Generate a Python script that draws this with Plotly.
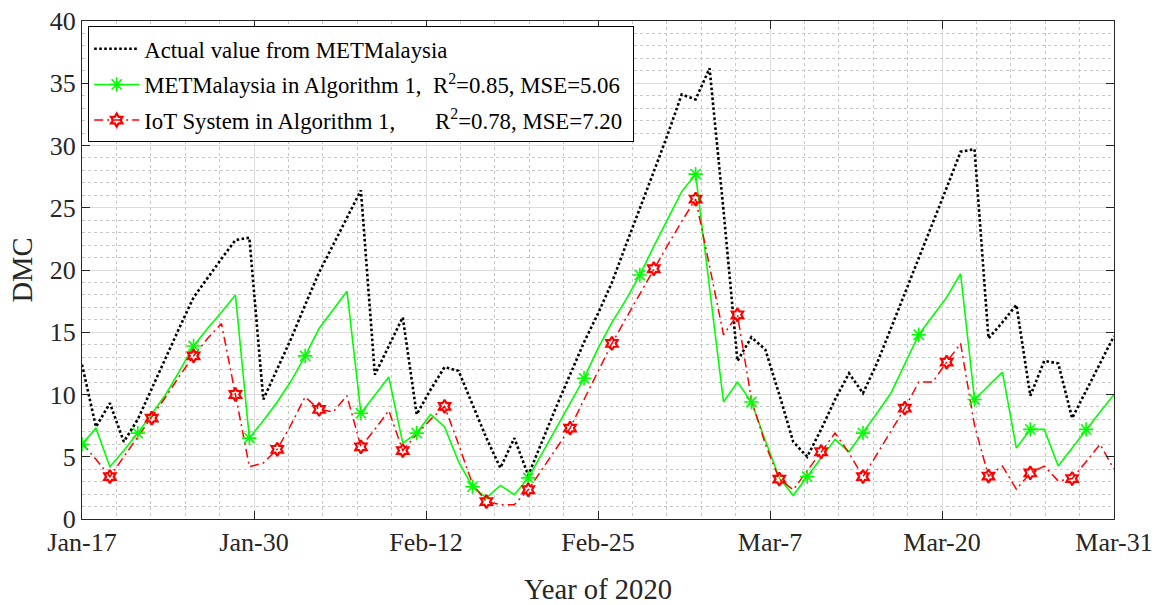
import numpy as np
import plotly.graph_objects as go

# ---------------- data ----------------
tick_labels = ["Jan-17", "Jan-30", "Feb-12", "Feb-25", "Mar-7", "Mar-20", "Mar-31"]

actual = [12.4, 7.4, 9.3, 6.2, 8.0, 10.5, 12.9, 15.4, 17.8, 19.4,
          20.9, 22.4, 22.6, 9.6, 12.0, 14.5, 17.2, 19.8, 22.0, 24.2,
          26.4, 11.6, 13.9, 16.2, 8.4, 10.4, 12.2, 11.9, 9.2, 6.5,
          4.1, 6.5, 3.5, 6.3, 9.0, 11.6, 14.2, 16.5, 19.0, 22.0,
          24.9, 27.9, 30.9, 34.1, 33.7, 36.2, 24.8, 12.7, 14.6, 13.6,
          10.0, 6.2, 5.0, 7.2, 9.6, 11.7, 10.1, 12.5, 15.3, 18.1,
          20.9, 23.7, 26.6, 29.5, 29.7, 14.5, 15.8, 17.2, 9.9, 12.7,
          12.5, 8.1, 10.3, 12.4, 14.7]

met_alg = [6.0, 7.3, 4.2, 5.5, 6.9, 8.4, 10.0, 11.9, 13.9, 15.3,
           16.6, 18.0, 6.5, 7.9, 9.4, 11.1, 13.1, 15.3, 16.8, 18.3,
           8.5, 9.95, 11.4, 6.1, 6.9, 8.4, 7.4, 4.6, 2.6, 1.7,
           2.7, 1.95, 3.3, 5.3, 7.3, 9.3, 11.3, 13.7, 15.8, 17.6,
           19.6, 21.9, 24.1, 26.3, 27.7, 18.6, 9.4, 11.0, 9.4, 6.3,
           3.3, 1.9, 3.4, 4.9, 6.4, 5.4, 6.9, 8.5, 10.1, 12.4,
           14.8, 16.3, 17.8, 19.7, 9.6, 10.7, 11.8, 5.7, 7.2, 7.2,
           4.25, 5.7, 7.2, 8.6, 10.0]

iot_alg = [6.1, 4.8, 3.4, 5.0, 6.5, 8.1, 9.8, 11.5, 13.1, 14.5,
           15.7, 10.0, 4.2, 4.5, 5.6, 7.6, 9.8, 8.8, 8.6, 9.9,
           5.8, 7.2, 8.7, 5.5, 6.8, 8.0, 9.05, 6.0, 2.8, 1.4,
           1.15, 1.15, 2.35, 4.0, 5.6, 7.3, 9.6, 11.9, 14.1, 16.1,
           18.1, 20.1, 22.0, 23.9, 25.7, 20.3, 14.8, 16.4, 9.6, 6.0,
           3.2, 2.35, 3.9, 5.4, 6.9, 5.3, 3.4, 5.2, 7.0, 8.9,
           11.0, 11.0, 12.6, 14.1, 7.5, 3.45, 4.25, 2.4, 3.7, 4.25,
           3.05, 3.25, 4.6, 6.0, 4.0]

days = list(range(len(actual)))
met_marker_idx = list(range(0, 75, 4))
iot_marker_idx = list(range(2, 72, 3))

legend_names = [
    "Actual value from METMalaysia",
    "METMalaysia in Algorithm 1,\u00a0\u00a0R<sup>2</sup>=0.85, MSE=5.06",
    "IoT System in Algorithm 1,\u00a0\u00a0\u00a0\u00a0\u00a0\u00a0\u00a0R<sup>2</sup>=0.78, MSE=7.20\u00a0",
]

# ---------------- styles ----------------
FONT = "Liberation Serif, Times New Roman, serif"
BLACK = "#000000"
GREEN = "#00ff00"
RED = "#ff0000"
AX = "#262626"

black_line = dict(color=BLACK, width=2.6, dash="2.6px,2.4px")
green_line = dict(color=GREEN, width=1.6)
red_line = dict(color=RED, width=1.5, dash="9px,4px,2px,4px")
green_marker = dict(symbol="asterisk-open", size=12, color=GREEN,
                    line=dict(color=GREEN, width=1.6))
red_marker = dict(symbol="hexagram-open", size=10, color=RED,
                  line=dict(color=RED, width=2.2))

fig = go.Figure()

# lines
fig.add_trace(go.Scatter(x=days, y=actual, mode="lines", line=black_line,
                         showlegend=False, hoverinfo="skip"))
fig.add_trace(go.Scatter(x=days, y=met_alg, mode="lines", line=green_line,
                         showlegend=False, hoverinfo="skip"))
fig.add_trace(go.Scatter(x=days, y=iot_alg, mode="lines", line=red_line,
                         showlegend=False, hoverinfo="skip"))
# markers
fig.add_trace(go.Scatter(x=[days[i] for i in met_marker_idx],
                         y=[met_alg[i] for i in met_marker_idx],
                         mode="markers", marker=green_marker,
                         showlegend=False, hoverinfo="skip"))
fig.add_trace(go.Scatter(x=[days[i] for i in iot_marker_idx],
                         y=[iot_alg[i] for i in iot_marker_idx],
                         mode="markers", marker=red_marker,
                         showlegend=False, hoverinfo="skip"))
# legend entries
fig.add_trace(go.Scatter(x=[None], y=[None], mode="lines", line=black_line,
                         name=legend_names[0], legendgroup="a"))
fig.add_trace(go.Scatter(x=[None], y=[None], mode="lines+markers",
                         line=green_line, marker=green_marker,
                         name=legend_names[1], legendgroup="b"))
fig.add_trace(go.Scatter(x=[None], y=[None], mode="lines+markers",
                         line=red_line, marker=red_marker,
                         name=legend_names[2], legendgroup="c"))

n_int = len(tick_labels) - 1
x_max = days[-1]
tickvals = list(np.linspace(0, x_max, len(tick_labels)))

fig.update_layout(
    width=1158, height=605,
    margin=dict(l=82, r=44, t=21, b=86, autoexpand=False),
    paper_bgcolor="white", plot_bgcolor="white",
    font=dict(family=FONT, color=AX, size=26),
    legend=dict(
        x=0.006, y=0.989, xanchor="left", yanchor="top",
        bgcolor="white", bordercolor=BLACK, borderwidth=1,
        font=dict(family=FONT, size=22.8, color="#000000"),
        itemwidth=45, traceorder="grouped", tracegroupgap=3,
    ),
    xaxis=dict(
        range=[0, x_max], tickmode="array", tickvals=tickvals,
        ticktext=tick_labels, ticks="inside", ticklen=8, tickcolor=AX,
        showline=True, linecolor=AX, linewidth=1, mirror="allticks",
        showgrid=True, gridcolor="#dcdcdc", gridwidth=1,
        zeroline=False, automargin=False,
        tickfont=dict(family=FONT, size=26, color=AX),
        title=dict(text="Year of 2020", font=dict(family=FONT, size=28.6, color=AX),
                   standoff=26),
        minor=dict(tickmode="linear", tick0=0, dtick=x_max / n_int / 5,
                   showgrid=True, gridcolor="#c8c8c8", griddash="dot",
                   gridwidth=1, ticks=""),
    ),
    yaxis=dict(
        range=[0, 40], dtick=5, tick0=0, ticks="inside", ticklen=8,
        tickcolor=AX, showline=True, linecolor=AX, linewidth=1,
        mirror="allticks", showgrid=True, gridcolor="#dcdcdc", gridwidth=1,
        zeroline=False, automargin=False,
        tickfont=dict(family=FONT, size=26, color=AX),
        title=dict(text="DMC", font=dict(family=FONT, size=28.6, color=AX),
                   standoff=8),
        minor=dict(tickmode="linear", tick0=0, dtick=1,
                   showgrid=True, gridcolor="#c8c8c8", griddash="dot",
                   gridwidth=1, ticks=""),
    ),
)

fig.write_html("out.html")
